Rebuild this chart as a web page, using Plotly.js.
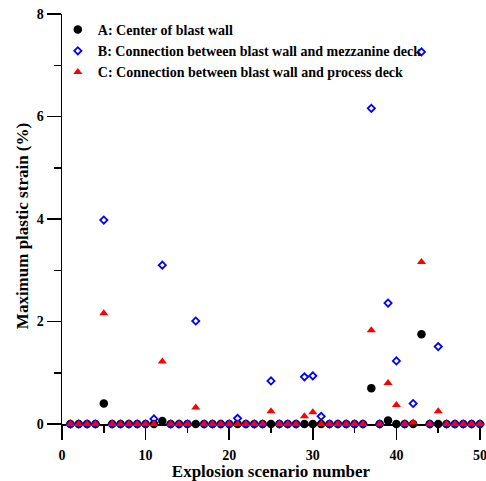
<!DOCTYPE html>
<html>
<head>
<meta charset="utf-8">
<script src="https://cdn.plot.ly/plotly-3.0.1.min.js"></script>
<style>html,body{margin:0;padding:0;background:#fff;}#chart{width:486px;height:481px;}</style>
</head>
<body>
<div id="chart"></div>
<script>
var scenarios = [];
for (var i = 1; i <= 50; i++) scenarios.push(i);

var seriesNames = [
  "A: Center of blast wall",
  "B: Connection between blast wall and mezzanine deck",
  "C: Connection between blast wall and process deck"
];

var strainA = [0,0,0,0,0.40,0,0,0,0,0, 0,0.06,0,0,0,0,0,0,0,0, 0,0,0,0,0,0,0,0,0,0, 0,0,0,0,0,0,0.70,0,0.07,0, 0,0,1.75,0,0,0,0,0,0,0];
var strainB = [0,0,0,0,3.98,0,0,0,0,0, 0.10,3.10,0,0,0,2.01,0,0,0,0, 0.11,0,0,0,0.84,0,0,0,0.92,0.94, 0.15,0,0,0,0,0,6.16,0,2.36,1.23, 0,0.40,7.26,0,1.51,0,0,0,0,0];
var strainC = [0,0,0,0,2.16,0,0,0,0,0, 0,1.22,0,0,0,0.32,0,0,0,0, 0,0,0,0,0.25,0,0,0,0.15,0.23, 0,0,0,0,0,0,1.83,0,0.80,0.37, 0,0.03,3.16,0,0.25,0,0,0,0,0];

var yMin = -0.273, yMax = 8;
var font = "Liberation Serif";

function b(s) { return "<b>" + s + "</b>"; }

var traces = [
  {x: [null], y: [null], xaxis: "x", yaxis: "y", mode: "markers", type: "scatter",
   showlegend: false, hoverinfo: "skip", marker: {opacity: 0}},
  {x: scenarios, y: strainA, name: b(seriesNames[0]), mode: "markers", type: "scatter", xaxis: "x2", cliponaxis: false,
   marker: {symbol: "circle", size: 8.5, color: "#000000"}},
  {x: scenarios, y: strainB, name: b(seriesNames[1]), mode: "markers", type: "scatter", xaxis: "x2", cliponaxis: false,
   marker: {symbol: "diamond-open", size: 5.5, color: "#0000ff", line: {width: 1.8, color: "#0000ff"}}},
  {x: scenarios, y: strainC, name: b(seriesNames[2]), mode: "markers", type: "scatter", xaxis: "x2", cliponaxis: false,
   marker: {symbol: "triangle-up", size: 8, color: "#ff0000"}}
];

var layout = {
  width: 486, height: 481,
  margin: {l: 62, r: 6, t: 14, b: 43, pad: 0},
  paper_bgcolor: "#ffffff", plot_bgcolor: "#ffffff",
  font: {family: font, size: 14, color: "#000000"},
  showlegend: true,
  legend: {x: -0.01, y: 1.0, xanchor: "left", yanchor: "top", bgcolor: "rgba(0,0,0,0)",
           font: {family: font, size: 14, color: "#000000", weight: "bold"}, tracegroupgap: 0},
  xaxis: {
    range: [0, 50], anchor: "y",
    showline: false, zeroline: false, showgrid: false,
    ticks: "", dtick: 10, tick0: 0, ticklabelstandoff: 7, ticklabeloverflow: "allow",
    tickfont: {family: font, size: 14, weight: "bold"},
    title: {text: b("Explosion scenario number"), font: {family: font, size: 17, weight: "bold"}, standoff: 5}
  },
  xaxis2: {
    range: [0, 50], overlaying: "x", anchor: "free", position: (0 - yMin) / (yMax - yMin),
    layer: "below traces",
    showline: true, linecolor: "#000", linewidth: 1.5, zeroline: false, showgrid: false,
    showticklabels: false,
    ticks: "outside", ticklen: 14, tickwidth: 1.5, tickcolor: "#000", dtick: 10, tick0: 0,
    minor: {ticks: "outside", ticklen: 7, tickwidth: 1.5, tickcolor: "#000", dtick: 5, showgrid: false}
  },
  yaxis: {
    range: [yMin, yMax],
    showline: true, linecolor: "#000", linewidth: 1.5, zeroline: false, showgrid: false,
    ticks: "outside", ticklen: 14, tickwidth: 1.5, tickcolor: "#000", dtick: 2, tick0: 0,
    minor: {ticks: "outside", ticklen: 7, tickwidth: 1.5, tickcolor: "#000", dtick: 1, showgrid: false},
    tickfont: {family: font, size: 14, weight: "bold"},
    title: {text: b("Maximum plastic strain (%)"), font: {family: font, size: 17, weight: "bold"}, standoff: 4}
  }
};

Plotly.newPlot("chart", traces, layout, {displayModeBar: false, staticPlot: true});
</script>
</body>
</html>
